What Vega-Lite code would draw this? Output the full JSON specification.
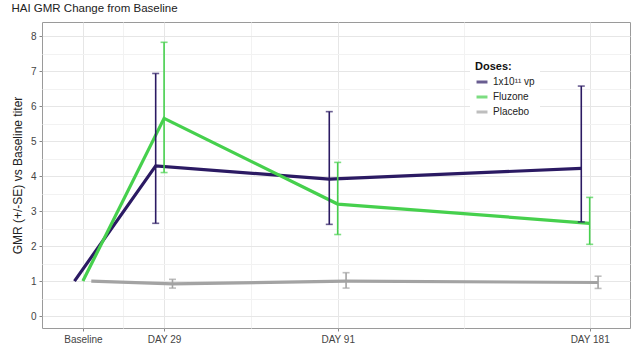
{
  "$schema": "https://vega.github.io/schema/vega-lite/v6.json",
  "width": 588,
  "height": 306,
  "autosize": "none",
  "padding": {"left": 42, "top": 22, "right": 10, "bottom": 25},
  "background": "white",
  "title": {"text": "HAI GMR Change from Baseline", "anchor": "start", "fontSize": 11.5, "fontWeight": "normal", "font": "Liberation Sans", "color": "#222", "offset": 8},
  "config": {
    "view": {"stroke": "#9a9a9a", "strokeWidth": 1},
    "font": "Liberation Sans",
    "axisY": {"labelOverlap": false, "labelColor": "#444", "labelFontSize": 10, "labelPadding": 3, "domain": false, "tickColor": "#888", "tickSize": 3, "titleFontSize": 12, "titleFontWeight": "normal", "titleColor": "#222", "titlePadding": 6}
  },
  "data": {"values": [
    {"dose": "1x10¹¹ vp", "day": 0, "gmr": 1, "lo": null, "hi": null},
    {"dose": "1x10¹¹ vp", "day": 29, "gmr": 4.29, "lo": 2.65, "hi": 6.93},
    {"dose": "1x10¹¹ vp", "day": 91, "gmr": 3.91, "lo": 2.62, "hi": 5.84},
    {"dose": "1x10¹¹ vp", "day": 181, "gmr": 4.22, "lo": 2.69, "hi": 6.57},
    {"dose": "Fluzone", "day": 0, "gmr": 1, "lo": null, "hi": null},
    {"dose": "Fluzone", "day": 29, "gmr": 5.65, "lo": 4.1, "hi": 7.82},
    {"dose": "Fluzone", "day": 91, "gmr": 3.2, "lo": 2.33, "hi": 4.39},
    {"dose": "Fluzone", "day": 181, "gmr": 2.65, "lo": 2.05, "hi": 3.39},
    {"dose": "Placebo", "day": 0, "gmr": 1, "lo": null, "hi": null},
    {"dose": "Placebo", "day": 29, "gmr": 0.92, "lo": 0.8, "hi": 1.05},
    {"dose": "Placebo", "day": 91, "gmr": 1.0, "lo": 0.8, "hi": 1.24},
    {"dose": "Placebo", "day": 181, "gmr": 0.96, "lo": 0.79, "hi": 1.14}
  ]},
  "transform": [
    {"calculate": "datum.day + (datum.dose == 'Placebo' ? 3 : (datum.dose == 'Fluzone' ? 0 : -3))", "as": "xd"}
  ],
  "encoding": {
    "x": {"field": "xd", "type": "quantitative",
      "scale": {"domain": [-14.6, 195.4], "nice": false, "zero": false},
      "axis": {"title": null, "values": [0, 14.5, 29, 60, 91, 136, 181], "labelOverlap": false,
        "labelExpr": "datum.value == 0 ? 'Baseline' : datum.value == 29 ? 'DAY 29' : datum.value == 91 ? 'DAY 91' : datum.value == 181 ? 'DAY 181' : ''",
        "domain": false, "tickColor": "#888", "tickSize": 3,
        "tickOpacity": {"condition": {"test": "datum.value == 0 || datum.value == 29 || datum.value == 91 || datum.value == 181", "value": 1}, "value": 0},
        "gridColor": {"condition": {"test": "datum.value == 0 || datum.value == 29 || datum.value == 91 || datum.value == 181", "value": "#e6e6e6"}, "value": "#f2f2f2"},
        "labelColor": "#444", "labelFontSize": 10, "labelPadding": 3}},
    "color": {"field": "dose", "type": "nominal",
      "scale": {"domain": ["1x10¹¹ vp", "Fluzone", "Placebo"], "range": ["#2b1a63", "#46d04d", "#a3a3a3"]},
      "legend": {"title": "Doses:", "orient": "none", "legendX": 428, "legendY": 34,
        "titleFontSize": 11, "titleFontWeight": "bold", "titleColor": "#111", "labelFontSize": 10, "labelColor": "#222",
        "symbolType": "stroke", "symbolStrokeWidth": 3, "symbolSize": 120, "rowPadding": 2,
        "fillColor": "white", "padding": 5, "titlePadding": 3}}
  },
  "layer": [
    {
      "mark": {"type": "line", "strokeWidth": 3.2},
      "encoding": {
        "y": {"field": "gmr", "type": "quantitative", "title": "GMR (+/-SE) vs Baseline titer",
          "scale": {"domain": [-0.34, 8.4], "nice": false, "zero": false},
          "axis": {
            "values": [0, 0.5, 1, 1.5, 2, 2.5, 3, 3.5, 4, 4.5, 5, 5.5, 6, 6.5, 7, 7.5, 8],
            "labelExpr": "datum.value % 1 == 0 ? format(datum.value, 'd') : ''",
            "tickOpacity": {"condition": {"test": "datum.value % 1 == 0", "value": 1}, "value": 0},
            "gridColor": {"condition": {"test": "datum.value % 1 == 0", "value": "#e6e6e6"}, "value": "#f2f2f2"}}},
        "order": {"field": "day"}
      }
    },
    {
      "transform": [{"filter": "datum.lo != null"}],
      "mark": {"type": "errorbar", "thickness": 1.6, "ticks": {"size": 7, "thickness": 1.6}},
      "encoding": {
        "y": {"field": "lo", "type": "quantitative", "title": "GMR (+/-SE) vs Baseline titer",
          "axis": {
            "values": [0, 0.5, 1, 1.5, 2, 2.5, 3, 3.5, 4, 4.5, 5, 5.5, 6, 6.5, 7, 7.5, 8],
            "labelExpr": "datum.value % 1 == 0 ? format(datum.value, 'd') : ''",
            "tickOpacity": {"condition": {"test": "datum.value % 1 == 0", "value": 1}, "value": 0},
            "gridColor": {"condition": {"test": "datum.value % 1 == 0", "value": "#e6e6e6"}, "value": "#f2f2f2"}}},
        "y2": {"field": "hi"}
      }
    }
  ]
}
